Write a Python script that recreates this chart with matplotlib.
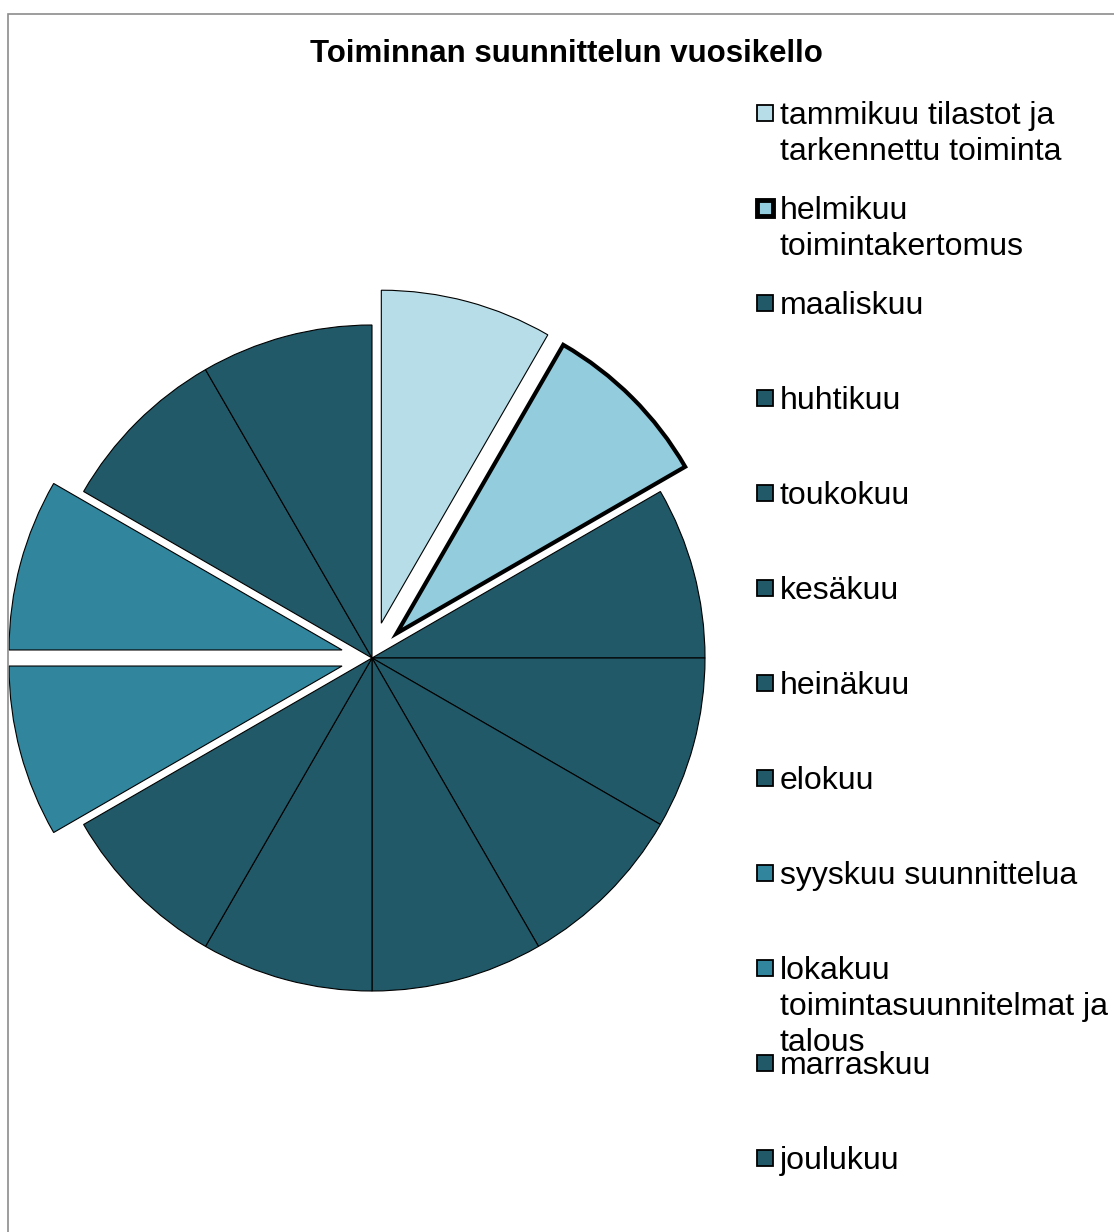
import matplotlib.pyplot as plt
from matplotlib.patches import Rectangle

plt.rcParams['font.family'] = ['Liberation Sans', 'DejaVu Sans']

labels = ["tammikuu tilastot ja\ntarkennettu toiminta", "helmikuu\ntoimintakertomus",
          "maaliskuu", "huhtikuu", "toukokuu", "kesäkuu", "heinäkuu", "elokuu",
          "syyskuu suunnittelua", "lokakuu\ntoimintasuunnitelmat ja\ntalous",
          "marraskuu", "joulukuu"]
values = [1] * 12
colors = ["#B7DEE8", "#93CDDD", "#215968", "#215968", "#215968", "#215968",
          "#215968", "#215968", "#31859C", "#31859C", "#215968", "#215968"]
explode = [36, 35, 0, 0, 0, 0, 0, 0, 31, 31, 0, 0]
edge_widths = [0.8, 3.0] + [0.8] * 10

W, H = 1114, 1232
fig = plt.figure(figsize=(W / 100, H / 100), dpi=100)
ax = fig.add_axes([0, 0, 1, 1])

# chart frame
fig.patches.append(Rectangle((8 / W, -0.01), 1.1, (H - 14) / H + 0.01, transform=fig.transFigure,
                             fill=False, edgecolor="#8c8c8c", lw=1.2))

wedges, _ = ax.pie(values, colors=colors, explode=explode, startangle=90, counterclock=False,
                   radius=333, center=(372, H - 658), frame=True,
                   wedgeprops=dict(edgecolor="black", linewidth=0.8))
for w, lw in zip(wedges, edge_widths):
    w.set_linewidth(lw)
ax.set_xlim(0, W)
ax.set_ylim(0, H)
ax.set_aspect('equal')
ax.axis('off')

fig.text(566 / W, 1 - 54 / H, "Toiminnan suunnittelun vuosikello", ha="center", va="center",
         fontsize=22.5, fontweight="bold")

# legend
for i, (lab, col) in enumerate(zip(labels, colors)):
    yc = 113 + 95 * i
    ax.add_patch(Rectangle((757, H - yc - 8), 16, 16, facecolor=col, edgecolor="black",
                           lw=edge_widths[i] + 0.5, clip_on=False))
    fig.text(780 / W, 1 - (yc - 12) / H, lab, ha="left", va="top", fontsize=23,
             linespacing=1.27)

fig.savefig("out.png", dpi=100)
